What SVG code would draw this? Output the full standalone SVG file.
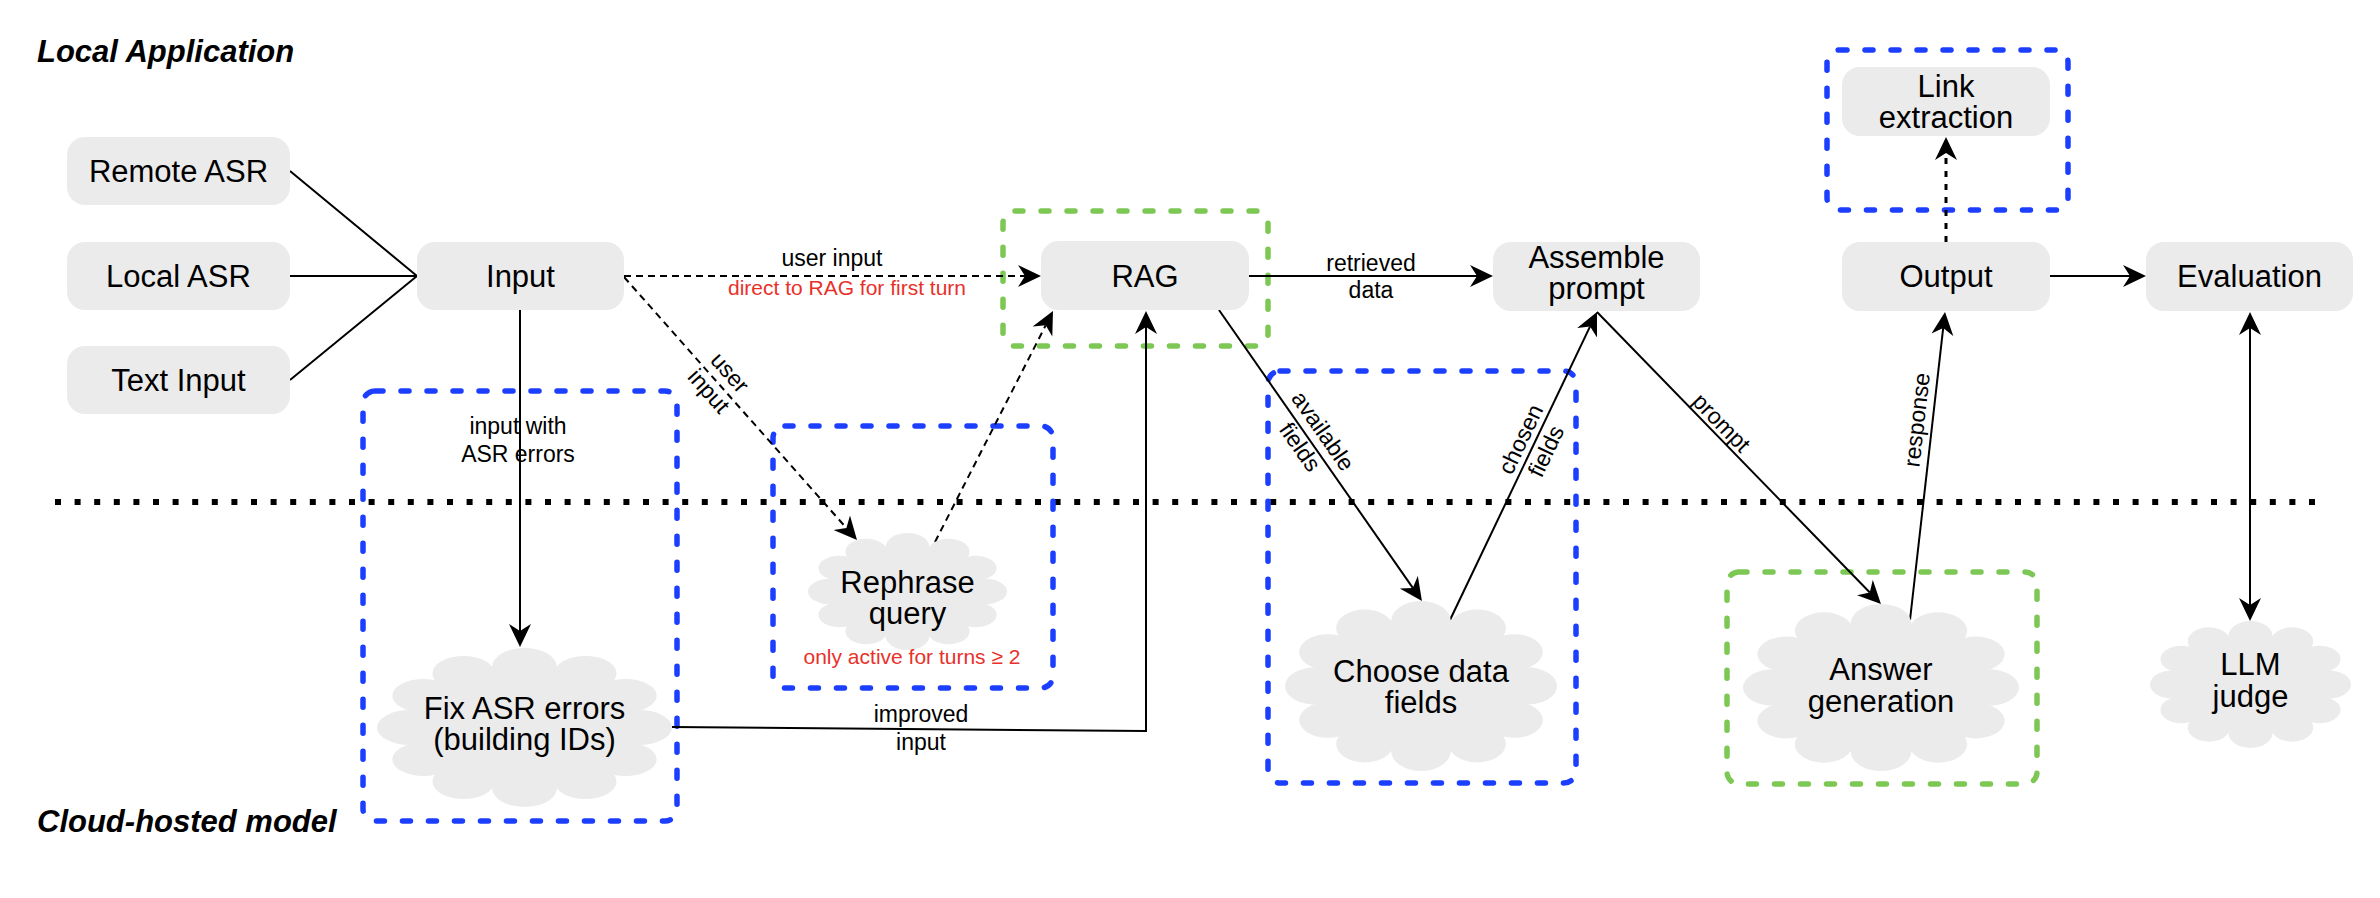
<svg xmlns="http://www.w3.org/2000/svg" width="2380" height="898" viewBox="0 0 2380 898">
<style>
text{font-family:"Liberation Sans",Arial,Helvetica,sans-serif;fill:#000}
.n{font-size:31px;text-anchor:middle}
.l{font-size:23px;text-anchor:middle}
.r{font-size:21px;text-anchor:middle;fill:#e8312b}
.t{font-size:31px;font-weight:bold;font-style:italic}
.box{fill:#ebebeb}
.gb{fill:none;stroke:#1c3fff;stroke-width:5.5;stroke-dasharray:8 18;stroke-linecap:round}
.gg{fill:none;stroke:#7dc855;stroke-width:5.5;stroke-dasharray:8 18;stroke-linecap:round}
.e{fill:none;stroke:#000;stroke-width:2}
.d{stroke-dasharray:7 5}
.dot{stroke-width:3;stroke-dasharray:6 7}
.sep{fill:none;stroke:#000;stroke-width:6;stroke-dasharray:6 13.6}
</style>
<defs>
<marker id="arr" markerUnits="userSpaceOnUse" markerWidth="24" markerHeight="24" viewBox="0 0 24 24" refX="7" refY="11" orient="auto-start-reverse">
<path d="M0,0 L23,11 L0,22 L7,11 Z" fill="#000" stroke="none"/>
</marker>
<symbol id="cloud" viewBox="0 0 100 100" preserveAspectRatio="none">
<g fill="#ebebeb">
<ellipse cx="50" cy="50" rx="38" ry="38"/>
<ellipse cx="50" cy="12" rx="11" ry="12"/>
<ellipse cx="29.3" cy="16" rx="10.5" ry="11"/>
<ellipse cx="70.7" cy="16" rx="10.5" ry="11"/>
<ellipse cx="15.7" cy="30" rx="10.5" ry="10.5"/>
<ellipse cx="84.3" cy="30" rx="10.5" ry="10.5"/>
<ellipse cx="11.3" cy="50" rx="11.3" ry="11"/>
<ellipse cx="88.7" cy="50" rx="11.3" ry="11"/>
<ellipse cx="15.7" cy="70" rx="10.5" ry="10.5"/>
<ellipse cx="84.3" cy="70" rx="10.5" ry="10.5"/>
<ellipse cx="29.3" cy="84" rx="10.5" ry="11"/>
<ellipse cx="70.7" cy="84" rx="10.5" ry="11"/>
<ellipse cx="50" cy="88" rx="11" ry="12"/>
</g>
</symbol>
</defs>
<rect width="2380" height="898" fill="#fff"/>

<g id="titles">
<text class="t" x="37" y="62">Local Application</text>
<text class="t" x="37" y="832">Cloud-hosted model</text>
</g>

<line id="separator" class="sep" x1="55" y1="502" x2="2321" y2="502"/>

<g id="groups">
<rect id="grp-fix" class="gb" x="363" y="391" width="314" height="430" rx="12"/>
<rect id="grp-rephrase" class="gb" x="773" y="426" width="280" height="262" rx="12"/>
<rect id="grp-rag" class="gg" x="1003" y="211" width="265" height="135" rx="12"/>
<rect id="grp-choose" class="gb" x="1268" y="371" width="308" height="412" rx="12"/>
<rect id="grp-answer" class="gg" x="1727" y="572" width="310" height="212" rx="12"/>
<rect id="grp-link" class="gb" x="1827" y="50" width="241" height="160" rx="12"/>
</g>

<g id="connectors">
<path class="e" d="M290,171 L417,276 M290,276 L417,276 M290,380 L417,276"/>
<path class="e d" d="M624,276 H1025" marker-end="url(#arr)"/>
<path class="e d" d="M624,277 L846.4,528" marker-end="url(#arr)"/>
<path class="e d" d="M935,542 L1045.7,325.3" marker-end="url(#arr)"/>
<path class="e" d="M520,310 V631" marker-end="url(#arr)"/>
<path class="e" d="M672,727 L1146,731 V327" marker-end="url(#arr)"/>
<path class="e" d="M1249,276 H1477" marker-end="url(#arr)"/>
<path class="e" d="M1219,310 L1412.8,587.9" marker-end="url(#arr)"/>
<path class="e" d="M1450,620 L1590.1,326.4" marker-end="url(#arr)"/>
<path class="e" d="M1597,312 L1869.8,592.5" marker-end="url(#arr)"/>
<path class="e" d="M1910,620 L1943.2,327.9" marker-end="url(#arr)"/>
<path class="e dot" d="M1946,242 V153" marker-end="url(#arr)"/>
<path class="e" d="M2050,276 H2130" marker-end="url(#arr)"/>
<path class="e" d="M2250,328 V605" marker-start="url(#arr)" marker-end="url(#arr)"/>

<text class="l" x="832" y="266">user input</text>
<text class="r" x="847" y="295">direct to RAG for first turn</text>
<text class="l" transform="translate(718,383) rotate(48.5)"><tspan x="0" y="-8">user</tspan><tspan x="0" y="20">input</tspan></text>
<text class="l"><tspan x="518" y="434">input with</tspan><tspan x="518" y="462">ASR errors</tspan></text>
<text class="l"><tspan x="921" y="722">improved</tspan><tspan x="921" y="750">input</tspan></text>
<text class="l"><tspan x="1371" y="271">retrieved</tspan><tspan x="1371" y="298">data</tspan></text>
<text class="l" transform="translate(1310,440) rotate(55.1)"><tspan x="0" y="-8">available</tspan><tspan x="0" y="20">fields</tspan></text>
<text class="l" transform="translate(1535,446) rotate(-64.5)"><tspan x="0" y="-8">chosen</tspan><tspan x="0" y="20">fields</tspan></text>
<text class="l" transform="translate(1713,431) rotate(45.8)" x="0" y="-4">prompt</text>
<text class="l" transform="translate(1932.6,421.6) rotate(-83.5)" x="0" y="-8">response</text>
</g>

<g id="node-remote-asr"><rect class="box" x="67" y="137" width="223" height="68" rx="18"/><text class="n" x="178.5" y="182">Remote ASR</text></g>
<g id="node-local-asr"><rect class="box" x="67" y="242" width="223" height="68" rx="18"/><text class="n" x="178.5" y="287">Local ASR</text></g>
<g id="node-text-input"><rect class="box" x="67" y="346" width="223" height="68" rx="18"/><text class="n" x="178.5" y="391">Text Input</text></g>
<g id="node-input"><rect class="box" x="417" y="242" width="207" height="68" rx="18"/><text class="n" x="520.5" y="287">Input</text></g>
<g id="node-rag"><rect class="box" x="1041" y="241" width="208" height="69" rx="18"/><text class="n" x="1145" y="287">RAG</text></g>
<g id="node-assemble"><rect class="box" x="1493" y="242" width="207" height="69" rx="18"/><text class="n"><tspan x="1596.5" y="268">Assemble</tspan><tspan x="1596.5" y="299">prompt</tspan></text></g>
<g id="node-output"><rect class="box" x="1842" y="242" width="208" height="69" rx="18"/><text class="n" x="1946" y="287">Output</text></g>
<g id="node-evaluation"><rect class="box" x="2146" y="242" width="207" height="69" rx="18"/><text class="n" x="2249.5" y="287">Evaluation</text></g>
<g id="node-link"><rect class="box" x="1842" y="67" width="208" height="69" rx="18"/><text class="n"><tspan x="1946" y="97">Link</tspan><tspan x="1946" y="128">extraction</tspan></text></g>

<g id="node-fix-asr"><use href="#cloud" x="377" y="648" width="295" height="159"/><text class="n"><tspan x="524.5" y="719">Fix ASR errors</tspan><tspan x="524.5" y="750">(building IDs)</tspan></text></g>
<g id="node-rephrase"><use href="#cloud" x="808" y="533" width="199" height="117"/><text class="n"><tspan x="907.5" y="593">Rephrase</tspan><tspan x="907.5" y="624">query</tspan></text><text class="r" x="912" y="664">only active for turns ≥ 2</text></g>
<g id="node-choose"><use href="#cloud" x="1285" y="601" width="272" height="170"/><text class="n"><tspan x="1421" y="682">Choose data</tspan><tspan x="1421" y="713">fields</tspan></text></g>
<g id="node-answer"><use href="#cloud" x="1743" y="604" width="276" height="167"/><text class="n"><tspan x="1881" y="680">Answer</tspan><tspan x="1881" y="712">generation</tspan></text></g>
<g id="node-llm-judge"><use href="#cloud" x="2150" y="621" width="201" height="127"/><text class="n"><tspan x="2250.5" y="675">LLM</tspan><tspan x="2250.5" y="707">judge</tspan></text></g>
</svg>
